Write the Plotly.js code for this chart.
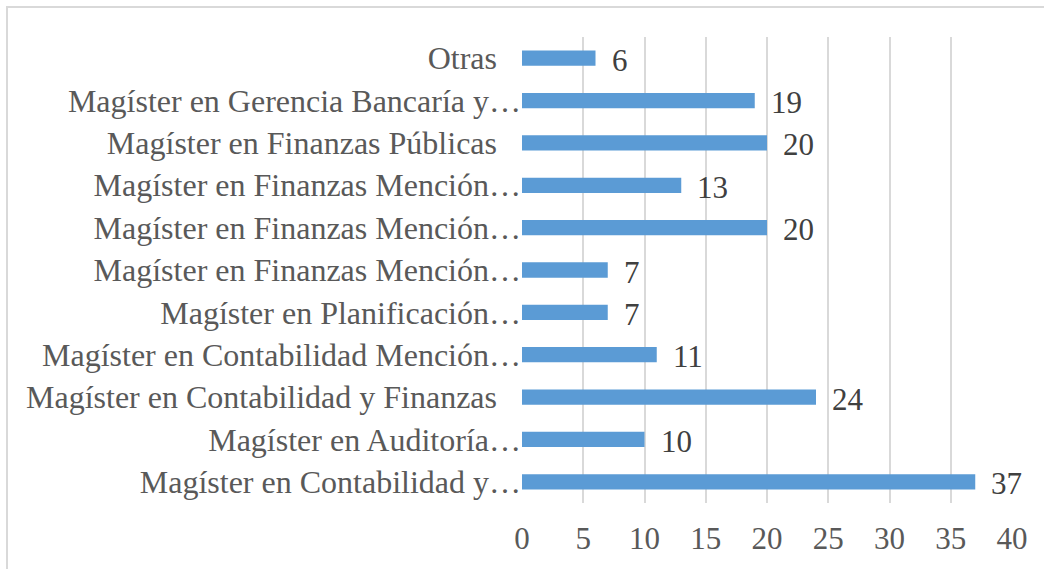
<!DOCTYPE html>
<html>
<head>
<meta charset="utf-8">
<script src="https://cdn.plot.ly/plotly-3.0.1.min.js"></script>
<style>html,body{margin:0;padding:0;background:#fff;}#chart{width:1044px;height:569px;}</style>
</head>
<body>
<div id="chart"></div>
<script>
// Categories listed bottom to top
const categories = [
  "Magíster en Contabilidad y…",
  "Magíster en Auditoría…",
  "Magíster en Contabilidad y Finanzas\u00a0\u00a0\u00a0",
  "Magíster en Contabilidad Mención…",
  "Magíster en Planificación…",
  "Magíster en Finanzas Mención…",
  "Magíster en Finanzas Mención…",
  "Magíster en Finanzas Mención…",
  "Magíster en Finanzas Públicas\u00a0\u00a0\u00a0",
  "Magíster en Gerencia Bancaría y…",
  "Otras\u00a0\u00a0\u00a0"
];
const values = [37, 10, 24, 11, 7, 7, 20, 13, 20, 19, 6];
const positions = categories.map((c, i) => i);
const xTicks = [0, 5, 10, 15, 20, 25, 30, 35, 40];

const FONT = "Liberation Serif";
const W = 1044, H = 569;
const margin = {l: 522, r: 32, t: 37, b: 66};
const pw = W - margin.l - margin.r, ph = H - margin.t - margin.b;
const px = v => (v - margin.l) / pw;
const py = v => 1 - (v - margin.t) / ph;

const trace = {
  type: 'bar',
  orientation: 'h',
  x: values,
  y: positions,
  marker: {color: '#5b9bd5'},
  hoverinfo: 'none'
};

const annotations = values.map((v, i) => ({
  x: v, y: positions[i], xref: 'x', yref: 'y',
  text: String(v), showarrow: false,
  xanchor: 'left', yanchor: 'middle', xshift: 14, yshift: -2,
  font: {family: FONT, size: 31, color: '#404040'}
}));

const layout = {
  width: W, height: H,
  margin: margin,
  paper_bgcolor: '#ffffff',
  plot_bgcolor: '#ffffff',
  showlegend: false,
  bargap: 0.64,
  font: {family: FONT, size: 31, color: '#595959'},
  xaxis: {
    range: [0, 40],
    tickvals: xTicks,
    ticktext: xTicks.map(String),
    showgrid: true, gridcolor: '#d9d9d9', gridwidth: 2,
    zeroline: false, showline: false,
    ticks: '', ticklabelstandoff: 14,
    tickfont: {family: FONT, size: 31, color: '#595959'},
    fixedrange: true
  },
  yaxis: {
    range: [-0.5, 10.5],
    tickvals: positions,
    ticktext: categories,
    showgrid: false, zeroline: false, showline: false,
    ticks: '', ticklabelstandoff: 0,
    tickfont: {family: FONT, size: 32, color: '#595959'},
    fixedrange: true
  },
  annotations: annotations,
  shapes: [{
    type: 'rect', xref: 'paper', yref: 'paper',
    x0: px(7), x1: px(1060), y0: py(590), y1: py(7),
    line: {color: '#d9d9d9', width: 2}, fillcolor: 'rgba(0,0,0,0)', layer: 'below'
  }]
};

Plotly.newPlot('chart', [trace], layout, {displayModeBar: false, staticPlot: true});
</script>
</body>
</html>
